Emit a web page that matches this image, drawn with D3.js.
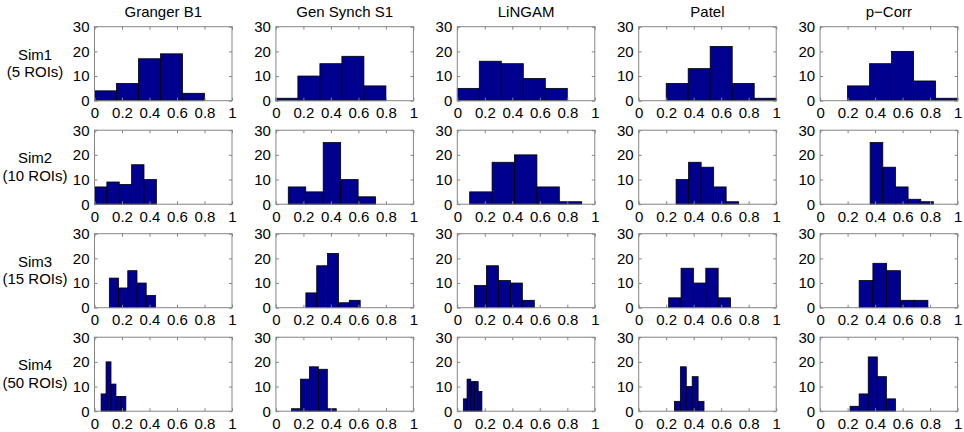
<!DOCTYPE html>
<html>
<head>
<meta charset="utf-8">
<script src="https://cdn.jsdelivr.net/npm/d3@7/dist/d3.min.js"></script>
<style>
  body { margin: 0; background: #fff; }
  svg { display: block; font-family: "Liberation Sans", Arial, sans-serif; }
</style>
</head>
<body>
<svg id="chart" width="964" height="432"></svg>
<script>
// ---- data ----
const methods = ["Granger B1", "Gen Synch S1", "LiNGAM", "Patel", "p\u2212Corr"];
const simNames = ["Sim1", "Sim2", "Sim3", "Sim4"];
const roiNames = ["(5 ROIs)", "(10 ROIs)", "(15 ROIs)", "(50 ROIs)"];
const xTicks = [0, 0.2, 0.4, 0.6, 0.8, 1];
const yTicks = [0, 10, 20, 30];

// bin start (left edge of first bar), bin width, and counts per method
const sim1Start = [0, 0, 0, 0.2, 0.2];
const sim1Width = [0.16, 0.16, 0.16, 0.16, 0.16];
const sim1Counts = [[4, 7, 17, 19, 3], [1, 10, 15, 18, 6], [5, 16, 15, 9, 5], [7, 13, 22, 7, 1], [6, 15, 20, 8, 1]];

const sim2Start = [0, 0.09, 0.09, 0.272, 0.364];
const sim2Width = [0.09, 0.127, 0.163, 0.091, 0.092];
const sim2Counts = [[7, 9, 8, 16, 10], [7, 5, 25, 10, 3], [5, 17, 20, 7, 1], [10, 17, 15, 7, 1], [25, 15, 7, 2, 1]];

const sim3Start = [0.108, 0.218, 0.125, 0.218, 0.284];
const sim3Width = [0.067, 0.079, 0.087, 0.09, 0.1];
const sim3Counts = [[12, 8, 15, 10, 5], [6, 17, 22, 2, 3], [9, 17, 11, 10, 3], [4, 16, 10, 16, 4], [11, 18, 15, 3, 3]];

const sim4Start = [0.048, 0.114, 0.044, 0.26, 0.218];
const sim4Width = [0.036, 0.065, 0.027, 0.043, 0.066];
const sim4Counts = [[7, 20, 11, 6, 6], [1, 13, 18, 17, 1], [5, 13, 12, 12, 8], [4, 18, 10, 14, 4], [2, 7, 22, 14, 5]];

const starts = [sim1Start, sim2Start, sim3Start, sim4Start];
const widths = [sim1Width, sim2Width, sim3Width, sim4Width];
const counts = [sim1Counts, sim2Counts, sim3Counts, sim4Counts];

// ---- layout ----
const left0 = 94.5, colStep = 181.4, top0 = 26.7, rowStep = 103.5;
const W = 137.5, H = 74;
const boxColor = "#858585";
const barColor = "#00008f";
const fontSize = 15;

const svg = d3.select("#chart");
const x = d3.scaleLinear().domain([0, 1]).range([0, W]);
const y = d3.scaleLinear().domain([0, 30]).range([H, 0]);

simNames.forEach((sim, r) => {
  const top = top0 + r * rowStep;
  // row label
  svg.append("text").attr("x", 35).attr("y", top + 27.5)
    .attr("text-anchor", "middle").attr("dominant-baseline", "central")
    .style("font-size", fontSize + "px").text(sim);
  svg.append("text").attr("x", 35).attr("y", top + 45)
    .attr("text-anchor", "middle").attr("dominant-baseline", "central")
    .style("font-size", fontSize + "px").text(roiNames[r]);

  methods.forEach((m, c) => {
    const left = left0 + c * colStep;
    const g = svg.append("g").attr("transform", `translate(${left},${top})`);

    if (r === 0) {
      svg.append("text").attr("x", left + W / 2).attr("y", 11)
        .attr("text-anchor", "middle").attr("dominant-baseline", "central")
        .style("font-size", fontSize + "px").text(m);
    }

    const s = starts[r][c], w = widths[r][c];
    g.selectAll("rect.bar").data(counts[r][c]).join("rect")
      .attr("class", "bar")
      .attr("x", (d, i) => x(s + i * w))
      .attr("width", x(w) - x(0))
      .attr("y", d => y(d))
      .attr("height", d => y(0) - y(d))
      .attr("fill", barColor)
      .attr("stroke", "#000")
      .attr("stroke-width", 0.8);

    const styleAxis = (sel, labels) => {
      sel.select(".domain").remove();
      sel.selectAll(".tick line").attr("stroke", boxColor);
      sel.selectAll(".tick text").attr("fill", "#000").style("font-size", fontSize + "px")
        .style("font-family", '"Liberation Sans", Arial, sans-serif');
      if (!labels) sel.selectAll(".tick text").remove();
    };

    g.append("g").attr("transform", `translate(0,${H})`)
      .call(d3.axisBottom(x).tickValues(xTicks).tickFormat(d3.format("~g")).tickSizeInner(-3).tickSizeOuter(0).tickPadding(7))
      .call(sel => styleAxis(sel, true));
    g.append("g")
      .call(d3.axisTop(x).tickValues(xTicks).tickSizeInner(-3).tickSizeOuter(0))
      .call(sel => styleAxis(sel, false));
    g.append("g")
      .call(d3.axisLeft(y).tickValues(yTicks).tickSizeInner(-3).tickSizeOuter(0).tickPadding(5))
      .call(sel => styleAxis(sel, true));
    g.append("g").attr("transform", `translate(${W},0)`)
      .call(d3.axisRight(y).tickValues(yTicks).tickSizeInner(-3).tickSizeOuter(0))
      .call(sel => styleAxis(sel, false));

    g.append("rect").attr("x", 0).attr("y", 0).attr("width", W).attr("height", H)
      .attr("fill", "none").attr("stroke", boxColor).attr("stroke-width", 1);
  });
});
</script>
</body>
</html>
